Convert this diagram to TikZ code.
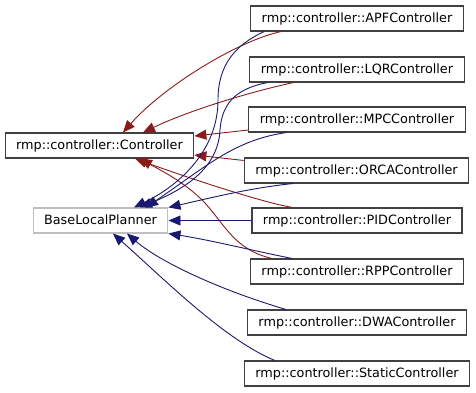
\documentclass[tikz,border=0pt]{standalone}
\usepackage{fontspec}
\usepackage{xcolor}
\usepackage{tikz}
\usetikzlibrary{arrows.meta,positioning}
\newfontfamily\dvsans{DejaVu Sans}
\definecolor{edgered}{HTML}{8B1A1A}
\definecolor{edgeblue}{HTML}{191970}
\definecolor{boxline}{HTML}{404040}
\definecolor{extline}{HTML}{BFBFBF}
\tikzset{
  cls/.style={draw=#1,fill=white,line width=1.1pt,inner xsep=11pt,inner ysep=0pt,minimum height=25pt,
              text height=9.6pt,text depth=2.6pt,font=\dvsans\fontsize{12.8}{15}\selectfont},
  cls/.default=boxline,
  inh/.style={-{Triangle[length=12pt,width=10pt]},line width=0.9pt,draw=#1},
  inh/.default=edgeblue,
}

\begin{document}
\begin{tikzpicture}[x=1pt,y=-1pt]
  \useasboundingbox (0,0) rectangle (476,392);
  % base classes
  \node[cls] (ctrl) at (99.5,145.5) {rmp::controller::Controller};
  \node[cls=extline] (blp) at (100.5,220.5) {BaseLocalPlanner};
  % derived controllers
  \node[cls] (apf) at (357,18.5) {rmp::controller::APFController};
  \node[cls] (lqr) at (357,69.5) {rmp::controller::LQRController};
  \node[cls] (mpc) at (357,119.5) {rmp::controller::MPCController};
  \node[cls] (orca) at (356.5,170.5) {rmp::controller::ORCAController};
  \node[cls] (pid) at (357,220.5) {rmp::controller::PIDController};
  \node[cls] (rpp) at (357,271.5) {rmp::controller::RPPController};
  \node[cls] (dwa) at (357,322.5) {rmp::controller::DWAController};
  \node[cls] (static) at (357,373.5) {rmp::controller::StaticController};

  % edges to rmp::controller::Controller
  \draw[inh=edgered] ([xshift=31pt]apf.south west) .. controls (240,40) and (165,85) .. ([xshift=23.5pt]ctrl.north);
  \draw[inh=edgered] ([xshift=44pt]lqr.south west) .. controls (250,92) and (190,110) .. ([xshift=43.5pt]ctrl.north);
  \draw[inh=edgered] ([yshift=-10.5pt]mpc.west) -- ([yshift=9.5pt]ctrl.east);
  \draw[inh=edgered] ([yshift=-3pt]orca.north west) -- ([yshift=-9.5pt]ctrl.east);
  \draw[inh=edgered] ([xshift=41pt]pid.north west) .. controls (260,202) and (180,175) .. ([xshift=35.5pt]ctrl.south);
  \draw[inh=edgered] ([xshift=22pt]rpp.north west) .. controls (235,250) and (225,225) .. (205,203)
                     .. controls (185,182) and (160,170) .. ([xshift=40.5pt]ctrl.south);

  % edges to BaseLocalPlanner
  \draw[inh] ([xshift=14pt]apf.south west) .. controls (235,45) and (218,65) .. (218,100)
             .. controls (218,150) and (180,185) .. ([xshift=33.5pt]blp.north);
  \draw[inh] ([xshift=18pt]lqr.south west) .. controls (240,88) and (222,100) .. (220,130)
             .. controls (218,170) and (182,190) .. ([xshift=39.5pt]blp.north);
  \draw[inh] ([xshift=38pt]mpc.south west) .. controls (235,140) and (208,165) .. ([xshift=45.5pt]blp.north);
  \draw[inh] ([xshift=49pt]orca.south west) .. controls (250,188) and (210,198) .. (blp.north east);
  \draw[inh] (pid.west) -- (blp.east);
  \draw[inh] ([xshift=42pt]rpp.north west) .. controls (250,250) and (210,240) .. (blp.south east);
  \draw[inh] ([xshift=39pt]dwa.north west) .. controls (220,290) and (160,262) .. ([xshift=26.5pt]blp.south);
  \draw[inh] ([xshift=31pt]static.north west) .. controls (225,340) and (165,280) .. ([xshift=12.5pt]blp.south);
\end{tikzpicture}
\end{document}
